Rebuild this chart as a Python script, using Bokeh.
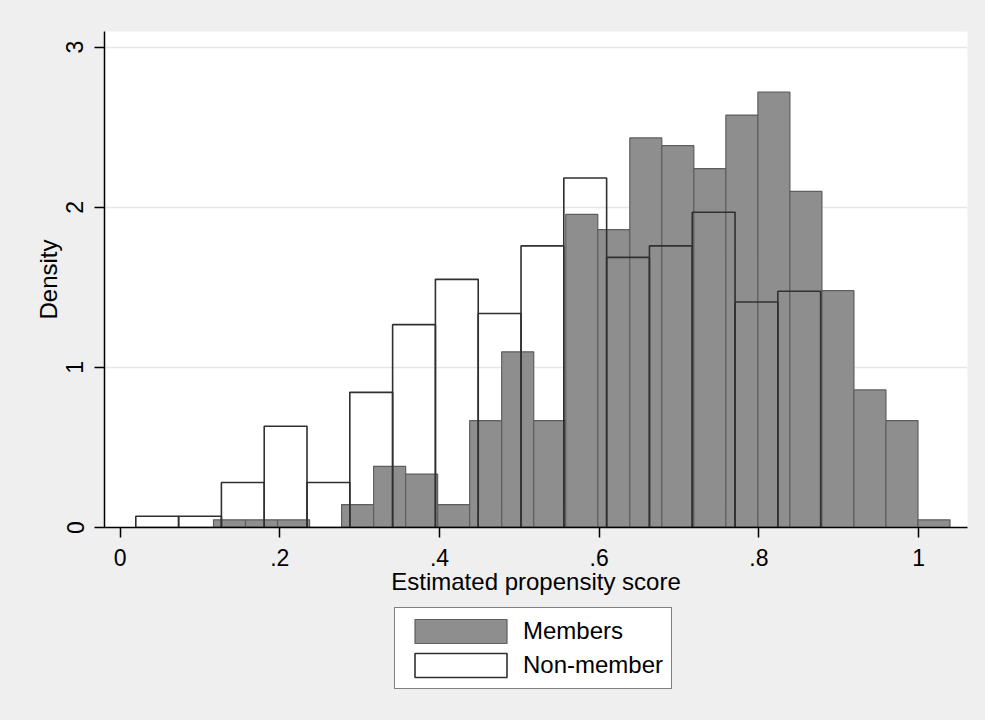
import numpy as np
from bokeh.plotting import figure
from bokeh.layouts import column
from bokeh.models import Range1d, FixedTicker, Legend, LegendItem, ColumnDataSource
from bokeh.embed import file_html
from bokeh.resources import INLINE

# ---- data ----
member_bin_start = 0.117
member_bin_width = 0.0401
member_density = [0.048, 0.048, 0.048, 0.0, 0.143, 0.382, 0.334, 0.143, 0.668, 1.097,
                  0.668, 1.956, 1.860, 2.433, 2.385, 2.242, 2.576, 2.719, 2.099, 1.479,
                  0.859, 0.668, 0.048]

nonmember_bin_start = 0.0197
nonmember_bin_width = 0.0536
nonmember_density = [0.070, 0.070, 0.281, 0.632, 0.281, 0.844, 1.267, 1.550, 1.337, 1.759,
                     2.183, 1.687, 1.759, 1.969, 1.408, 1.476]

x_ticks = [0, 0.2, 0.4, 0.6, 0.8, 1.0]
x_tick_labels = ["0", ".2", ".4", ".6", ".8", "1"]
y_ticks = [0, 1, 2, 3]
y_tick_labels = ["0", "1", "2", "3"]
legend_labels = ["Members", "Non-member"]

# ---- build sources ----
m_left = member_bin_start + member_bin_width * np.arange(len(member_density))
m_src = ColumnDataSource(dict(left=m_left, right=m_left + member_bin_width,
                              top=member_density, bottom=[0] * len(member_density)))
n_left = nonmember_bin_start + nonmember_bin_width * np.arange(len(nonmember_density))
n_src = ColumnDataSource(dict(left=n_left, right=n_left + nonmember_bin_width,
                              top=nonmember_density, bottom=[0] * len(nonmember_density)))

FONT = "Liberation Sans"
BG = "#efefef"
M_STYLE = dict(fill_color="#8e8e8e", line_color="#5e5e5e", line_width=1.2)
N_STYLE = dict(fill_color="white", fill_alpha=0.0, line_color="#303030", line_width=1.6)

p = figure(width=985, height=607, output_backend="svg", toolbar_location=None,
           x_range=Range1d(-0.0195, 1.0612), y_range=Range1d(0, 3.098),
           min_border_left=104, min_border_right=18, min_border_top=31, min_border_bottom=80)
p.background_fill_color = "white"
p.border_fill_color = BG
p.outline_line_color = None

p.quad(left="left", right="right", top="top", bottom="bottom", source=m_src, **M_STYLE)
p.quad(left="left", right="right", top="top", bottom="bottom", source=n_src, **N_STYLE)

# axes
p.xaxis.ticker = FixedTicker(ticks=x_ticks)
p.xaxis.major_label_overrides = {t: l for t, l in zip(x_ticks, x_tick_labels)}
p.yaxis.ticker = FixedTicker(ticks=y_ticks)
p.yaxis.major_label_overrides = {t: l for t, l in zip(y_ticks, y_tick_labels)}
p.yaxis.major_label_orientation = "vertical"

p.xaxis.axis_label = "Estimated propensity score"
p.yaxis.axis_label = "Density"

for ax in (p.xaxis[0], p.yaxis[0]):
    ax.axis_line_color = "black"
    ax.axis_line_width = 1.5
    ax.major_tick_line_color = "black"
    ax.major_tick_line_width = 1.5
    ax.major_tick_out = 10
    ax.major_tick_in = 0
    ax.minor_tick_line_color = None
    ax.major_label_text_font = FONT
    ax.major_label_text_font_size = "23px"
    ax.major_label_text_color = "black"
    ax.axis_label_text_font = FONT
    ax.axis_label_text_font_size = "24px"
    ax.axis_label_text_font_style = "normal"
    ax.axis_label_text_color = "black"

p.xaxis.major_label_standoff = 11
p.xaxis.axis_label_standoff = -1
p.yaxis.major_label_standoff = 11
p.yaxis.axis_label_standoff = 2

p.xgrid.grid_line_color = None
p.ygrid.grid_line_color = "#e6e6e6"
p.ygrid.grid_line_width = 1.5
p.ygrid.ticker = FixedTicker(ticks=[1, 2, 3])

# ---- legend strip below the plot (same data, drawn out of view; only the key shows) ----
p2 = figure(width=985, height=113, output_backend="svg", toolbar_location=None,
            x_range=Range1d(0, 1), y_range=Range1d(10, 11),
            x_axis_type=None, y_axis_type=None,
            min_border_left=0, min_border_right=0, min_border_top=0, min_border_bottom=0)
p2.background_fill_color = BG
p2.border_fill_color = BG
p2.outline_line_color = None
p2.xgrid.grid_line_color = None
p2.ygrid.grid_line_color = None

lm = p2.quad(left="left", right="right", top="top", bottom="bottom", source=m_src, **M_STYLE)
ln = p2.quad(left="left", right="right", top="top", bottom="bottom", source=n_src, **N_STYLE)

legend = Legend(items=[LegendItem(label=legend_labels[0], renderers=[lm]),
                       LegendItem(label=legend_labels[1], renderers=[ln])],
                location=(290, 31), orientation="vertical")
legend.label_text_font = FONT
legend.label_text_font_size = "24px"
legend.label_text_color = "black"
legend.glyph_width = 115
legend.glyph_height = 30
legend.label_height = 30
legend.label_standoff = 5
legend.spacing = 4
legend.padding = 8
legend.margin = 0
legend.border_line_color = "black"
legend.border_line_width = 1.2
legend.background_fill_color = "white"
legend.background_fill_alpha = 1.0
p2.add_layout(legend, "center")

layout = column(p, p2, spacing=0)
html = file_html(layout, INLINE)
html = html.replace("</head>", "<style>html, body { background: %s; }</style></head>" % BG, 1)
open("out.html", "w").write(html)
